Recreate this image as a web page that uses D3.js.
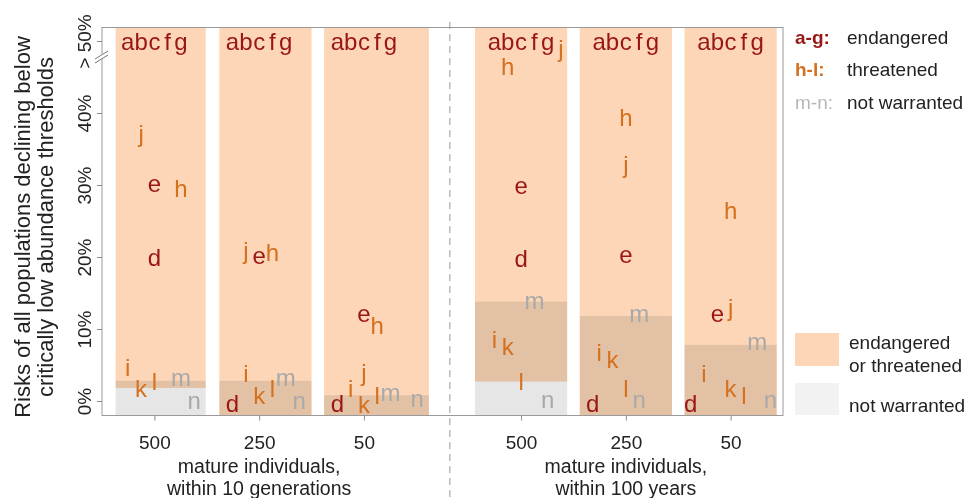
<!DOCTYPE html>
<html>
<head>
<meta charset="utf-8">
<script src="https://cdn.jsdelivr.net/npm/d3@7"></script>
<style>
  body { margin: 0; background: #fff; }
  text { font-family: "Liberation Sans", Arial, sans-serif; }
</style>
</head>
<body>
<script>
// ---- data ----
const panelLabels = ["500", "250", "50", "500", "250", "50"];
const panelPos = [0, 1, 2, 3.5, 4.5, 5.5];
const groupTitles = [
  ["mature individuals,", "within 10 generations"],
  ["mature individuals,", "within 100 years"]
];
const groupCenter = [1, 4.5];

// lower edge of the "endangered or threatened" band (null = runs to the floor)
const etLow = [1.8, null, null, 2.7, null, null];
// upper edge of the "not warranted" band
const nwHigh = [2.8, 2.8, 0.8, 13.8, 11.8, 7.8];

const yTicks = [0, 10, 20, 30, 40, 50];
const yTickLabels = ["0%", "10%", "20%", "30%", "40%", "> 50%"];

const species = ["a","b","c","d","e","f","g","h","i","j","k","l","m","n"];
const status  = ["E","E","E","E","E","E","E","T","T","T","T","T","N","N"];

// risk (%) per species, one array per panel; values above 50% sit on the 50% line
const risk10gen500 = [50,50,50,19.9,30.2,50,50,29.5,4.7,37.2,1.7,2.7,3.2,0.1];
const risk10gen250 = [50,50,50,-0.3,20.2,50,50,20.6,3.8,20.9,0.7,1.8,3.3,0.1];
const risk10gen50  = [50,50,50,-0.3,12.2,50,50,10.5,1.7,4.0,-0.5,0.8,1.2,0.3];
const risk100y500  = [50,50,50,19.8,30.0,50,50,46.4,8.6,49.0,7.6,2.7,14.0,0.2];
const risk100y250  = [50,50,50,-0.3,20.3,50,50,39.4,6.8,32.9,5.7,1.8,12.2,0.2];
const risk100y50   = [50,50,50,-0.3,12.2,50,50,26.4,3.8,13.0,1.8,0.8,8.2,0.2];
const risks = [risk10gen500, risk10gen250, risk10gen50, risk100y500, risk100y250, risk100y50];

// label dodge column per species (to keep letters apart)
const dodge = [
  [-2,-1,0,0,0,1,2,2,-2,-1,-1,0,2,3],
  [-2,-1,0,-2,0,1,2,1,-1,-1,0,1,2,3],
  [-2,-1,0,-2,0,1,2,1,-1,0,0,1,2,4],
  [-2,-1,0,0,0,1,2,-1,-2,3,-1,0,1,2],
  [-2,-1,0,-2.5,0,1,2,0,-2,0,-1,0,1,1],
  [-2,-1,0,-3,-1,1,2,0,-2,0,0,1,2,3]
];

// ---- layout ----
const width = 971, height = 498;
const frame = { left: 102, right: 783, top: 27.5, bottom: 415.5 };
const barExtent = [[-0.37,0.49],[-0.38,0.5],[-0.38,0.62],[-0.44,0.44],[-0.44,0.44],[-0.44,0.44]];
const colStep = 0.127;
const colors = { E: "#9a1515", T: "#d4701e", N: "#a9a9a9" };
const peach = "#fcd6b6", grey = "#e6e6e6";

const svg = d3.select("body").append("svg")
  .attr("width", width).attr("height", height);

const x = d3.scaleLinear().domain([-0.5, 6]).range([frame.left, frame.right]);
const y = d3.scaleLinear().domain([0, 50]).range([401, 41]);
const floor = y.invert(frame.bottom), ceil = y.invert(frame.top + 0.5);

// bars
const bars = svg.append("g");
panelPos.forEach((p, i) => {
  const x0 = x(p + barExtent[i][0]), x1 = x(p + barExtent[i][1]);
  bars.append("rect")
    .attr("x", x0).attr("width", x1 - x0)
    .attr("y", y(nwHigh[i])).attr("height", y(floor) - y(nwHigh[i]))
    .attr("fill", grey);
  const lo = etLow[i] == null ? floor : etLow[i];
  bars.append("rect")
    .attr("x", x0).attr("width", x1 - x0)
    .attr("y", y(ceil)).attr("height", y(lo) - y(ceil))
    .attr("fill", peach)
    .style("mix-blend-mode", "multiply");
});

// dashed separator
svg.append("line")
  .attr("x1", x(2.82)).attr("x2", x(2.82))
  .attr("y1", 22).attr("y2", height)
  .attr("stroke", "#aaa").attr("stroke-width", 1.2)
  .attr("stroke-dasharray", "7,5");

// frame
svg.append("rect")
  .attr("x", frame.left).attr("y", frame.top)
  .attr("width", frame.right - frame.left).attr("height", frame.bottom - frame.top)
  .attr("fill", "none").attr("stroke", "#9a9a9a");

// letters
const letters = svg.append("g").attr("text-anchor", "middle")
  .attr("font-size", 24).attr("dominant-baseline", "central");
panelPos.forEach((p, i) => {
  letters.selectAll(null)
    .data(species.map((s, j) => ({ s, v: risks[i][j], c: dodge[i][j], st: status[j] })))
    .join("text")
    .attr("x", d => x(p + d.c * colStep))
    .attr("y", d => y(d.v))
    .attr("fill", d => colors[d.st])
    .text(d => d.s);
});

// y axis
const yAxis = svg.append("g")
  .attr("transform", `translate(${frame.left},0)`)
  .call(d3.axisLeft(y).tickValues(yTicks).tickSize(5)
    .tickFormat((d, i) => yTickLabels[i]));
yAxis.select(".domain").remove();
yAxis.selectAll(".tick line").attr("stroke", "#8a8a8a");
yAxis.selectAll(".tick text")
  .attr("x", null).attr("dy", null)
  .attr("text-anchor", "middle")
  .attr("font-size", 19).attr("fill", "#222")
  .attr("font-family", "Liberation Sans, Arial, sans-serif")
  .attr("transform", "translate(-11,0) rotate(-90)");

// axis break
svg.append("rect").attr("x", frame.left - 2).attr("y", 54).attr("width", 4).attr("height", 5).attr("fill", "#fff");
svg.append("line").attr("x1", 95).attr("y1", 59).attr("x2", 108).attr("y2", 51).attr("stroke", "#777");
svg.append("line").attr("x1", 95).attr("y1", 63).attr("x2", 108).attr("y2", 55).attr("stroke", "#777");

// x axis
const xAxis = svg.append("g")
  .attr("transform", `translate(0,${frame.bottom})`)
  .call(d3.axisBottom(x).tickValues(panelPos).tickSize(5)
    .tickFormat((d, i) => panelLabels[i]));
xAxis.select(".domain").remove();
xAxis.selectAll(".tick line").attr("stroke", "#8a8a8a");
xAxis.selectAll(".tick text")
  .attr("y", 26.5).attr("dy", null)
  .attr("dominant-baseline", "central")
  .attr("font-size", 19).attr("fill", "#222")
  .attr("font-family", "Liberation Sans, Arial, sans-serif");

groupTitles.forEach((lines, g) => {
  lines.forEach((t, k) => {
    svg.append("text")
      .attr("x", x(groupCenter[g])).attr("y", 466 + k * 21.5)
      .attr("text-anchor", "middle").attr("dominant-baseline", "central")
      .attr("font-size", 19.5).attr("fill", "#222")
      .text(t);
  });
});

// y title
const yTitle = ["Risks of all populations declining below", "critically low abundance thresholds"];
yTitle.forEach((t, k) => {
  svg.append("text")
    .attr("transform", `translate(${22 + k * 23},227) rotate(-90)`)
    .attr("text-anchor", "middle").attr("dominant-baseline", "central")
    .attr("font-size", 22).attr("fill", "#222")
    .text(t);
});

// legend: letter groups
const legendKeys = ["a-g:", "h-l:", "m-n:"];
const legendNames = ["endangered", "threatened", "not warranted"];
const legendCols = [colors.E, colors.T, "#b8b8b8"];
legendKeys.forEach((k, i) => {
  const ly = 37 + i * 32.5;
  svg.append("text").attr("x", 795).attr("y", ly)
    .attr("dominant-baseline", "central").attr("font-size", 19)
    .attr("font-weight", i < 2 ? "bold" : "normal")
    .attr("fill", legendCols[i]).text(k);
  svg.append("text").attr("x", 847).attr("y", ly)
    .attr("dominant-baseline", "central").attr("font-size", 19)
    .attr("fill", "#222").text(legendNames[i]);
});

// legend: bands
svg.append("rect").attr("x", 795).attr("y", 333).attr("width", 44).attr("height", 33).attr("fill", peach);
svg.append("rect").attr("x", 795).attr("y", 383).attr("width", 44).attr("height", 32).attr("fill", "#f2f2f2");
[["endangered", 342], ["or threatened", 365], ["not warranted", 405]].forEach(([t, ty]) => {
  svg.append("text").attr("x", 849).attr("y", ty)
    .attr("dominant-baseline", "central").attr("font-size", 19)
    .attr("fill", "#222").text(t);
});
</script>
</body>
</html>
